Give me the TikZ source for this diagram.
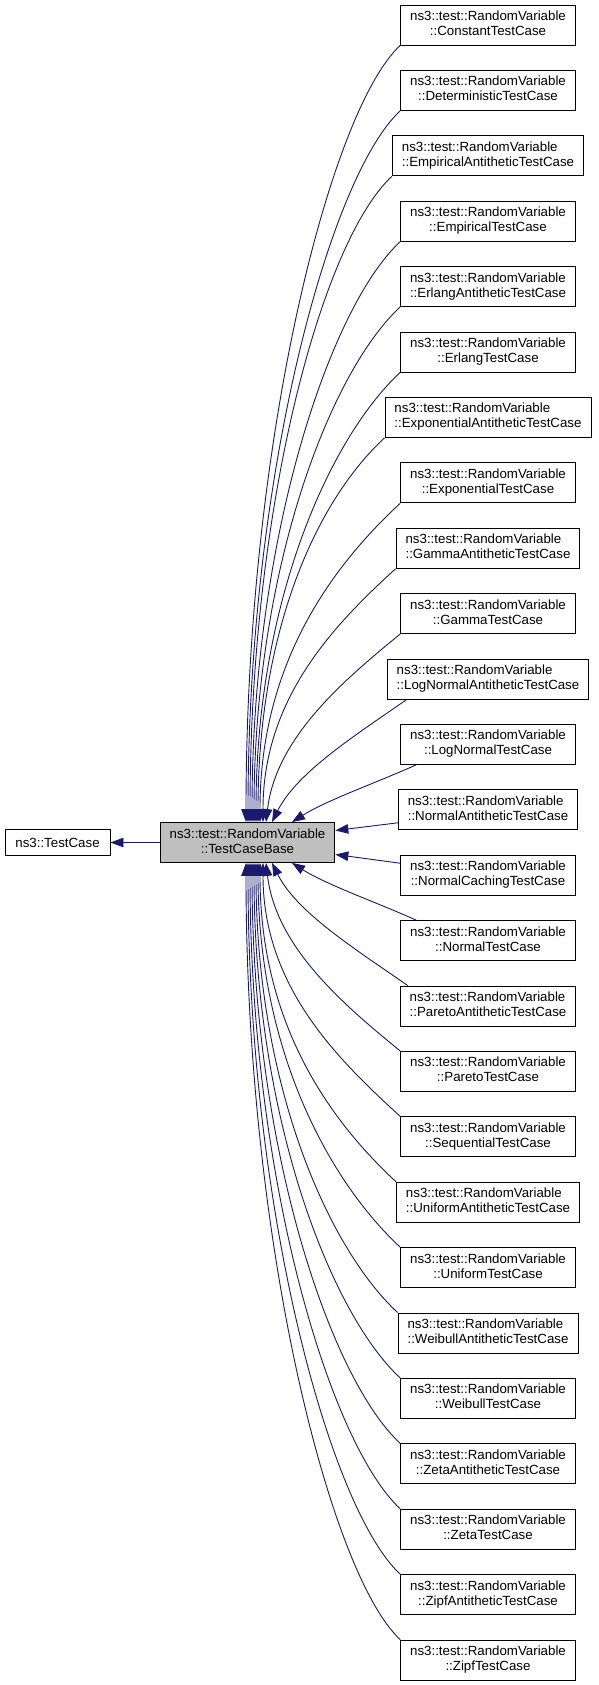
\documentclass[tikz,border=0pt]{standalone}
\usepackage{fontspec}
\setmainfont{Liberation Sans}
\usetikzlibrary{arrows.meta}
\definecolor{edgeblue}{HTML}{191970}
\definecolor{basegray}{HTML}{BFBFBF}
\newcommand{\rvname}[1]{\begin{tabular}{@{}l@{}}ns3::test::RandomVariable\\\multicolumn{1}{@{}c@{}}{::#1}\end{tabular}}
\tikzset{
  cls/.style={draw=black, fill=white, line width=0.9pt, inner xsep=9.5pt, inner ysep=0pt,
    minimum height=40pt, font=\fontsize{13.3}{15}\selectfont},
  basecls/.style={cls, fill=basegray},
  inh/.style={draw=edgeblue, line width=0.9pt, ->, >={Triangle[length=13pt,width=9.5pt]}}
}

\begin{document}
\begin{tikzpicture}[x=1pt, y=-1pt]
	\useasboundingbox (0,0) rectangle (599,1685);
		\node[cls, minimum width=105pt, minimum height=26pt] (tc) at (57.5,842.5) {ns3::TestCase};
		\node[basecls] (base) at (247.5,842.5) {\rvname{TestCaseBase}};
		\draw[inh] (base) -- (tc);

	\node[cls] (c0) at (488,25) {\rvname{ConstantTestCase}};
	\node[cls] (c1) at (488,90.4) {\rvname{DeterministicTestCase}};
	\node[cls] (c2) at (488,155.8) {\rvname{EmpiricalAntitheticTestCase}};
	\node[cls] (c3) at (488,221.2) {\rvname{EmpiricalTestCase}};
	\node[cls] (c4) at (488,286.6) {\rvname{ErlangAntitheticTestCase}};
	\node[cls] (c5) at (488,352) {\rvname{ErlangTestCase}};
	\node[cls] (c6) at (488,417.4) {\rvname{ExponentialAntitheticTestCase}};
	\node[cls] (c7) at (488,482.8) {\rvname{ExponentialTestCase}};
	\node[cls] (c8) at (488,548.2) {\rvname{GammaAntitheticTestCase}};
	\node[cls] (c9) at (488,613.6) {\rvname{GammaTestCase}};
	\node[cls] (c10) at (488,679) {\rvname{LogNormalAntitheticTestCase}};
	\node[cls] (c11) at (488,744.4) {\rvname{LogNormalTestCase}};
	\node[cls] (c12) at (488,809.8) {\rvname{NormalAntitheticTestCase}};
	\node[cls] (c13) at (488,875.2) {\rvname{NormalCachingTestCase}};
	\node[cls] (c14) at (488,940.6) {\rvname{NormalTestCase}};
	\node[cls] (c15) at (488,1006) {\rvname{ParetoAntitheticTestCase}};
	\node[cls] (c16) at (488,1071.4) {\rvname{ParetoTestCase}};
	\node[cls] (c17) at (488,1136.8) {\rvname{SequentialTestCase}};
	\node[cls] (c18) at (488,1202.2) {\rvname{UniformAntitheticTestCase}};
	\node[cls] (c19) at (488,1267.6) {\rvname{UniformTestCase}};
	\node[cls] (c20) at (488,1333) {\rvname{WeibullAntitheticTestCase}};
	\node[cls] (c21) at (488,1398.4) {\rvname{WeibullTestCase}};
	\node[cls] (c22) at (488,1463.8) {\rvname{ZetaAntitheticTestCase}};
	\node[cls] (c23) at (488,1529.2) {\rvname{ZetaTestCase}};
	\node[cls] (c24) at (488,1594.6) {\rvname{ZipfAntitheticTestCase}};
	\node[cls] (c25) at (488,1660) {\rvname{ZipfTestCase}};

	% upper half
	\draw[inh] (c0.south west) .. controls +(-70,65) and +(0,-381) .. ([xshift=-1.5pt]base.north);
	\draw[inh] (c1.south west) .. controls +(-70,65) and +(0,-349) .. ([xshift=0.5pt]base.north);
	\draw[inh] (c2.south west) .. controls +(-70,65) and +(0,-317) .. ([xshift=2.5pt]base.north);
	\draw[inh] (c3.south west) .. controls +(-70,65) and +(0,-285) .. ([xshift=4.5pt]base.north);
	\draw[inh] (c4.south west) .. controls +(-70,65) and +(0,-253) .. ([xshift=6.5pt]base.north);
	\draw[inh] (c5.south west) .. controls +(-70,65) and +(0,-221) .. ([xshift=8.5pt]base.north);
	\draw[inh] (c6.south west) .. controls +(-70,65) and +(0,-189) .. ([xshift=10.5pt]base.north);
	\draw[inh] (c7.south west) .. controls +(-70,65) and +(0,-157) .. ([xshift=12.5pt]base.north);
	\draw[inh] (c8.south west) .. controls +(-60,55) and +(0,-125) .. ([xshift=15.5pt]base.north);
	\draw[inh] (c9.south west) .. controls +(-55,45) and +(10,-85) .. ([xshift=18.5pt]base.north);
	\draw[inh] ([xshift=20pt]c10.south west) .. controls +(-50,35) and +(25,-50) .. ([xshift=24.5pt]base.north);
	\draw[inh] ([xshift=16pt]c11.south west) .. controls +(-40,18) and +(35,-22) .. ([xshift=44.5pt]base.north);
	\draw[inh] ([yshift=-13pt]c12.west) -- ([yshift=12pt]base.east);
	% lower half
	\draw[inh] ([yshift=12pt]c13.west) -- ([yshift=-12pt]base.east);
	\draw[inh] ([xshift=16pt]c14.north west) .. controls +(-40,-18) and +(35,22) .. ([xshift=44.5pt]base.south);
	\draw[inh] ([xshift=8pt]c15.north west) .. controls +(-50,-35) and +(25,50) .. ([xshift=24.5pt]base.south);
	\draw[inh] (c16.north west) .. controls +(-55,-45) and +(10,85) .. ([xshift=18.5pt]base.south);
	\draw[inh] (c17.north west) .. controls +(-60,-55) and +(0,125) .. ([xshift=15.5pt]base.south);
	\draw[inh] (c18.north west) .. controls +(-70,-65) and +(0,157) .. ([xshift=12.5pt]base.south);
	\draw[inh] (c19.north west) .. controls +(-70,-65) and +(0,189) .. ([xshift=10.5pt]base.south);
	\draw[inh] (c20.north west) .. controls +(-70,-65) and +(0,221) .. ([xshift=8.5pt]base.south);
	\draw[inh] (c21.north west) .. controls +(-70,-65) and +(0,253) .. ([xshift=6.5pt]base.south);
	\draw[inh] (c22.north west) .. controls +(-70,-65) and +(0,285) .. ([xshift=4.5pt]base.south);
	\draw[inh] (c23.north west) .. controls +(-70,-65) and +(0,317) .. ([xshift=2.5pt]base.south);
	\draw[inh] (c24.north west) .. controls +(-70,-65) and +(0,349) .. ([xshift=0.5pt]base.south);
	\draw[inh] (c25.north west) .. controls +(-70,-65) and +(0,381) .. ([xshift=-1.5pt]base.south);
\end{tikzpicture}
\end{document}
